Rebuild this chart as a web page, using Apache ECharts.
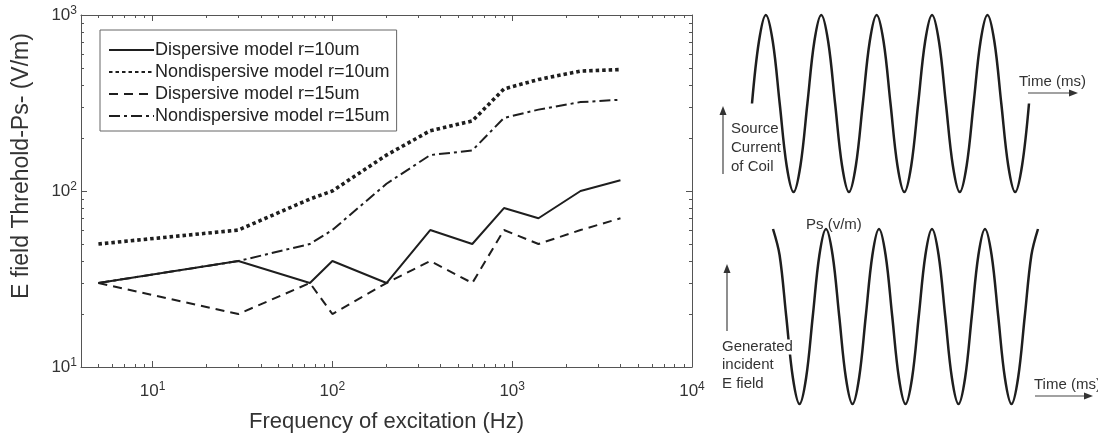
<!DOCTYPE html>
<html>
<head>
<meta charset="utf-8">
<script src="https://cdn.jsdelivr.net/npm/echarts@6/dist/echarts.min.js"></script>
<style>
  html, body { margin: 0; padding: 0; background: #fff; }
  #main { width: 1098px; height: 438px; }
</style>
</head>
<body>
<div id="main"></div>
<script>
// values
const freq = [5, 30, 75, 100, 200, 350, 600, 900, 1400, 2400, 4000];
const dispersive10 = [30, 40, 30, 40, 30, 60, 50, 80, 70, 100, 115];
const nondispersive10 = [50, 60, 90, 100, 160, 220, 250, 380, 430, 480, 490];
const dispersive15 = [30, 20, 30, 20, 30, 40, 30, 60, 50, 60, 70];
const nondispersive15 = [30, 40, 50, 60, 110, 160, 170, 260, 290, 320, 330];

const seriesNames = [
    'Dispersive model r=10um',
    'Nondispersive model r=10um',
    'Dispersive model r=15um',
    'Nondispersive model r=15um'
];

const xMajorTicks = [10, 100, 1000, 10000];
const xMinorTicks = [5, 6, 7, 8, 9, 20, 30, 40, 50, 60, 70, 80, 90, 200, 300, 400, 500, 600, 700, 800, 900,
    2000, 3000, 4000, 5000, 6000, 7000, 8000, 9000];
const yMajorTicks = [10, 100, 1000];
const yMinorTicks = [20, 30, 40, 50, 60, 70, 80, 90, 200, 300, 400, 500, 600, 700, 800, 900];

// schematic waves, time in periods, amplitude normalised to 1
const waveTime = [0, 0.125, 0.25, 0.375, 0.5, 0.625, 0.75, 0.875,
    1, 1.125, 1.25, 1.375, 1.5, 1.625, 1.75, 1.875,
    2, 2.125, 2.25, 2.375, 2.5, 2.625, 2.75, 2.875,
    3, 3.125, 3.25, 3.375, 3.5, 3.625, 3.75, 3.875,
    4, 4.125, 4.25, 4.375, 4.5, 4.625, 4.75, 4.875, 5];
const coilCurrent = [0, 0.7, 1, 0.7, 0, -0.7, -1, -0.7,
    0, 0.7, 1, 0.7, 0, -0.7, -1, -0.7,
    0, 0.7, 1, 0.7, 0, -0.7, -1, -0.7,
    0, 0.7, 1, 0.7, 0, -0.7, -1, -0.7,
    0, 0.7, 1, 0.7, 0, -0.7, -1, -0.7, 0];
const incidentField = [1, 0.7, 0, -0.7, -1, -0.7, 0, 0.7,
    1, 0.7, 0, -0.7, -1, -0.7, 0, 0.7,
    1, 0.7, 0, -0.7, -1, -0.7, 0, 0.7,
    1, 0.7, 0, -0.7, -1, -0.7, 0, 0.7,
    1, 0.7, 0, -0.7, -1, -0.7, 0, 0.7, 1];

const FONT = '"Liberation Sans", Arial, Helvetica, sans-serif';
const INK = '#1e1e1e';
const AXIS = '#555';
const TXT = '#333';

const myChart = echarts.init(document.getElementById('main'));

function pairs(xs, ys) {
    return xs.map(function (x, i) { return [x, ys[i]]; });
}

function powLabel(value) {
    return '{b|10}{s|' + Math.round(Math.log10(value)) + '}';
}
const powRich = {
    b: {fontSize: 17, color: TXT, fontFamily: FONT},
    s: {fontSize: 12, color: TXT, fontFamily: FONT, padding: [0, 0, 9, 0]}
};

function logAxis(dim, pos, ticks, len, extra) {
    const ax = {
        type: 'log',
        logBase: 10,
        gridIndex: 0,
        position: pos,
        min: dim === 'x' ? 4 : 10,
        max: dim === 'x' ? 10000 : 1000,
        axisLine: {show: false},
        axisTick: {show: true, inside: true, length: len, customValues: ticks, lineStyle: {color: AXIS, width: 1}},
        axisLabel: {show: false},
        splitLine: {show: false},
        minorTick: {show: false}
    };
    return Object.assign(ax, extra || {});
}

const xAxes = [
    logAxis('x', 'bottom', xMajorTicks, 6, {
        axisLine: {show: true, lineStyle: {color: AXIS, width: 1}},
        axisLabel: {
            show: true, customValues: xMajorTicks, margin: 14,
            formatter: powLabel, rich: powRich
        },
        name: 'Frequency of excitation (Hz)',
        nameLocation: 'middle',
        nameGap: 44,
        nameTextStyle: {fontSize: 22, color: TXT, fontFamily: FONT}
    }),
    logAxis('x', 'bottom', xMinorTicks, 3),
    logAxis('x', 'top', xMajorTicks, 6, {axisLine: {show: true, lineStyle: {color: AXIS, width: 1}}}),
    logAxis('x', 'top', xMinorTicks, 3),
    {type: 'value', gridIndex: 1, min: 0, max: 5, show: false},
    {type: 'value', gridIndex: 2, min: 0, max: 5, show: false}
];

const yAxes = [
    logAxis('y', 'left', yMajorTicks, 6, {
        axisLine: {show: true, lineStyle: {color: AXIS, width: 1}},
        axisLabel: {
            show: true, customValues: yMajorTicks, margin: 4,
            formatter: powLabel, rich: powRich
        },
        name: 'E field Threhold-Ps- (V/m)',
        nameLocation: 'middle',
        nameGap: 48,
        nameTextStyle: {fontSize: 23, color: TXT, fontFamily: FONT, padding: [0, 0, 0, 50]}
    }),
    logAxis('y', 'left', yMinorTicks, 3),
    logAxis('y', 'right', yMajorTicks, 6, {axisLine: {show: true, lineStyle: {color: AXIS, width: 1}}}),
    logAxis('y', 'right', yMinorTicks, 3),
    {type: 'value', gridIndex: 1, min: -1, max: 1, show: false},
    {type: 'value', gridIndex: 2, min: -1, max: 1, show: false}
];

function curve(name, values, dash, width) {
    return {
        name: name,
        type: 'line',
        xAxisIndex: 0,
        yAxisIndex: 0,
        data: pairs(freq, values),
        symbol: 'none',
        lineStyle: {color: INK, width: width, type: dash, cap: 'butt'},
        itemStyle: {color: INK},
        z: 3
    };
}

function wave(gridIdx, values) {
    return {
        type: 'line',
        xAxisIndex: gridIdx,
        yAxisIndex: gridIdx,
        data: pairs(waveTime, values),
        symbol: 'none',
        smooth: 0.35,
        clip: false,
        lineStyle: {color: INK, width: 2.5},
        silent: true
    };
}

function arrow(x1, y1, x2, y2) {
    // straight arrow with a small filled head at (x2, y2)
    const dx = x2 - x1, dy = y2 - y1;
    const len = Math.sqrt(dx * dx + dy * dy);
    const ux = dx / len, uy = dy / len;
    const hl = 9, hw = 3.5;
    const bx = x2 - ux * hl, by = y2 - uy * hl;
    return [
        {type: 'line', z: 100, shape: {x1: x1, y1: y1, x2: bx, y2: by}, style: {stroke: '#444', lineWidth: 1.2}},
        {type: 'polygon', z: 100, shape: {points: [[x2, y2], [bx - uy * hw, by + ux * hw], [bx + uy * hw, by - ux * hw]]},
            style: {fill: '#333'}}
    ];
}

function label(text, x, y, bg) {
    const st = {text: text, font: '15px ' + FONT, fill: '#333', textAlign: 'left', textVerticalAlign: 'middle'};
    if (bg) {
        st.backgroundColor = '#fff';
    }
    return {type: 'text', z: 100, x: x, y: y, style: st};
}

const graphics = [].concat(
    [label('Time (ms)', 1019, 82)],
    arrow(1028, 93, 1078, 93),
    arrow(723, 174, 723, 106),
    [label('Source', 731, 129), label('Current', 731, 148), label('of Coil', 731, 167)],
    [label('Ps (v/m)', 806, 225)],
    arrow(727, 331, 727, 264),
    [label('Generated', 722, 347, true), label('incident', 722, 365), label('E field', 722, 384)],
    [label('Time (ms)', 1034, 385)],
    arrow(1035, 396, 1093, 396)
);

const option = {
    backgroundColor: '#ffffff',
    animation: false,
    textStyle: {fontFamily: FONT},
    grid: [
        {left: 81, top: 15, width: 611, height: 352},
        {left: 752, top: 15, width: 277, height: 177},
        {left: 773, top: 229, width: 265, height: 175}
    ],
    legend: {
        orient: 'vertical',
        left: 100,
        top: 30,
        data: seriesNames,
        itemWidth: 45,
        itemHeight: 14,
        itemGap: 4,
        padding: [11, 7, 6, 8],
        borderColor: '#666',
        borderWidth: 1,
        backgroundColor: '#fff',
        selectedMode: false,
        itemStyle: {color: 'transparent', borderWidth: 0},
        textStyle: {fontSize: 18, color: '#222', fontFamily: FONT, padding: [0, 0, 0, -4]}
    },
    xAxis: xAxes,
    yAxis: yAxes,
    series: [
        curve(seriesNames[0], dispersive10, 'solid', 2),
        curve(seriesNames[1], nondispersive10, [3.5, 3], 3.6),
        curve(seriesNames[2], dispersive15, [9, 6], 2),
        curve(seriesNames[3], nondispersive15, [11, 4, 3, 4], 2),
        wave(4, coilCurrent),
        wave(5, incidentField)
    ],
    graphic: graphics
};

myChart.setOption(option);
window.onresize = myChart.resize;
</script>
</body>
</html>
